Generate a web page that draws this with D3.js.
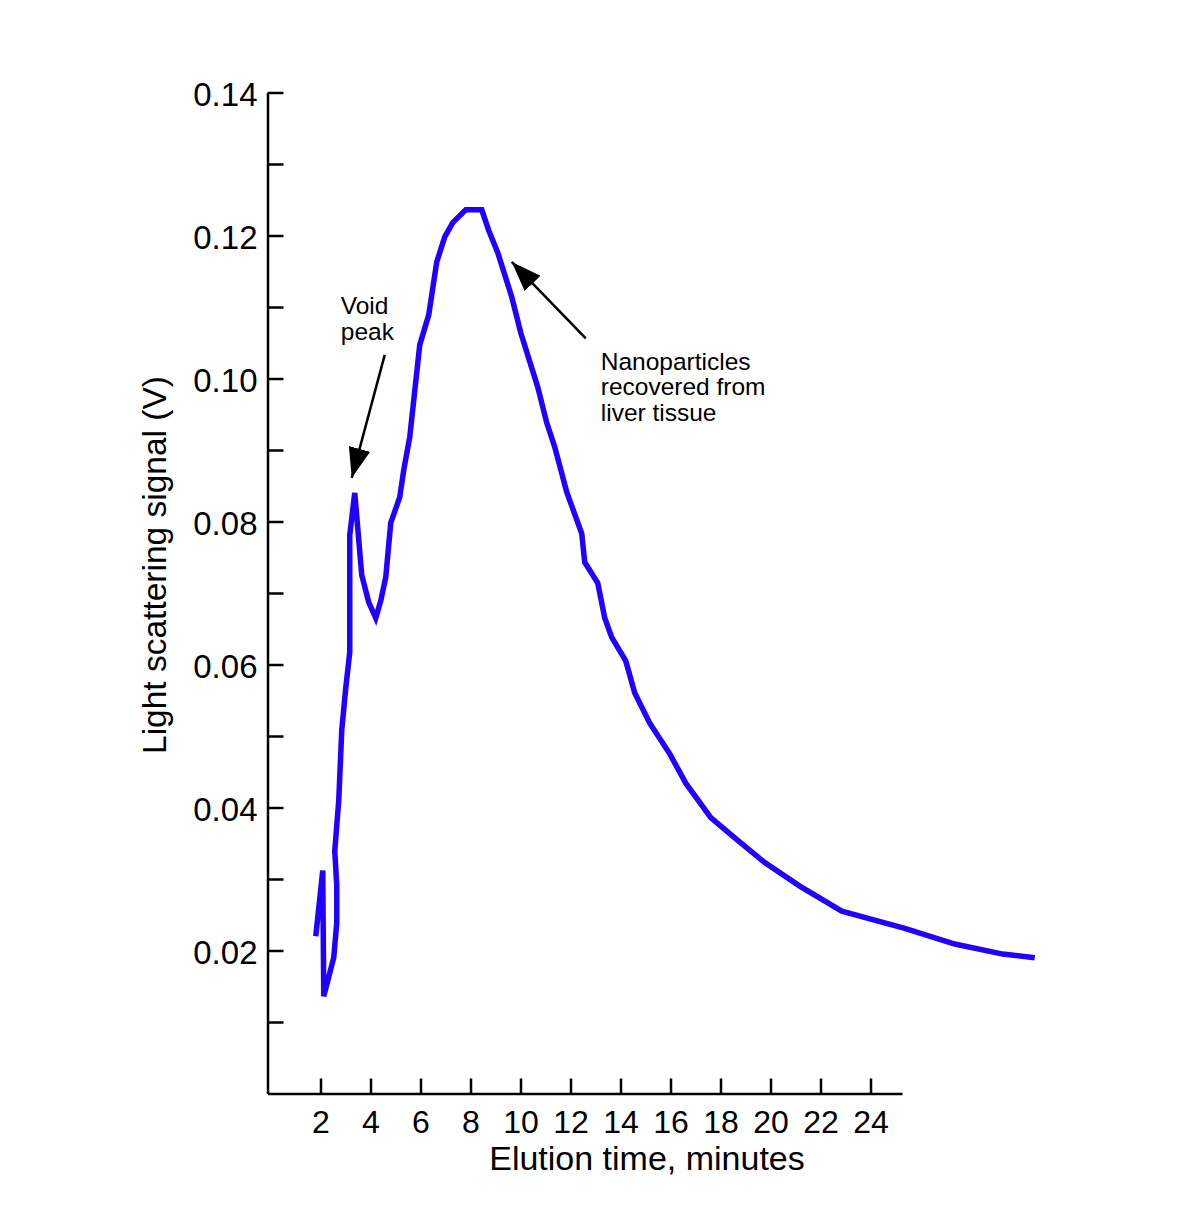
<!DOCTYPE html>
<html>
<head>
<meta charset="utf-8">
<script src="https://cdn.jsdelivr.net/npm/d3@7"></script>
<style>
  body { margin: 0; background: #fff; }
  text { font-family: "Liberation Sans", Arial, Helvetica, sans-serif; fill: #000; }
</style>
</head>
<body>
<div id="chart"></div>
<script>
// elution time (minutes) and light scattering signal (V)
var times = [1.81, 2.09, 2.13, 2.53, 2.65, 2.65, 2.57, 2.73, 2.85, 3.01, 3.17, 3.17,
             3.37, 3.65, 3.93, 4.21, 4.41, 4.61, 4.81, 5.17, 5.33, 5.57, 5.97, 6.33,
             6.65, 6.97, 7.29, 7.81, 8.45, 8.73, 9.09, 9.65, 10.01, 10.69, 11.05, 11.37,
             11.85, 12.45, 12.57, 13.09, 13.37, 13.65, 14.21, 14.57, 15.17, 15.97, 16.61,
             17.61, 18.45, 19.77, 21.17, 22.85, 25.37, 27.37, 29.29, 30.57];
var signal = [0.0220, 0.0312, 0.0136, 0.0190, 0.0239, 0.0291, 0.0339, 0.0410, 0.0508, 0.0567, 0.0617, 0.0781,
              0.0840, 0.0725, 0.0687, 0.0665, 0.0689, 0.0722, 0.0798, 0.0834, 0.0872, 0.0918, 0.1047, 0.1089,
              0.1163, 0.1198, 0.1218, 0.1236, 0.1236, 0.1207, 0.1176, 0.1114, 0.1064, 0.0988, 0.0938, 0.0904,
              0.0841, 0.0783, 0.0743, 0.0714, 0.0665, 0.0638, 0.0605, 0.0560, 0.0518, 0.0475, 0.0434,
              0.0386, 0.0361, 0.0323, 0.0290, 0.0255, 0.0231, 0.0209, 0.0195, 0.0190];

var x_ticks = [2, 4, 6, 8, 10, 12, 14, 16, 18, 20, 22, 24];
var y_ticks = [0.01, 0.02, 0.03, 0.04, 0.05, 0.06, 0.07, 0.08, 0.09, 0.10, 0.11, 0.12, 0.13, 0.14];

// annotations in data units: text anchor, arrow tail, arrow tip
var notes = [
    { lines: ['Void', 'peak'], t: 2.81, v: 0.1090, tail: [4.57, 0.1033], tip: [3.25, 0.0861] },
    { lines: ['Nanoparticles', 'recovered from', 'liver tissue'], t: 13.21, v: 0.1012,
      tail: [12.61, 0.1056], tip: [9.65, 0.1163] }
];

var W = 1200, H = 1212;

var sx = d3.scaleLinear()
    .domain([-0.12, 25.26])
    .range([267.5, 902]);
var sy = d3.scaleLinear()
    .domain([0, 0.14])
    .range([1093.5, 92.5]);

var svg = d3.select('#chart').append('svg')
    .attr('width', W)
    .attr('height', H);

svg.append('defs').append('marker')
    .attr('id', 'head')
    .attr('markerUnits', 'userSpaceOnUse')
    .attr('viewBox', '0 0 30 22')
    .attr('refX', 30)
    .attr('refY', 11)
    .attr('markerWidth', 30)
    .attr('markerHeight', 22)
    .attr('orient', 'auto')
  .append('path')
    .attr('d', 'M0,0 L30,11 L0,22 Z')
    .attr('fill', '#000');

var ax = d3.axisBottom(sx)
    .tickValues(x_ticks)
    .tickSizeInner(-15)
    .tickSizeOuter(0)
    .tickPadding(18)
    .tickFormat(d3.format('d'));
var ay = d3.axisLeft(sy)
    .tickValues(y_ticks)
    .tickSizeInner(-16)
    .tickSizeOuter(0)
    .tickPadding(10)
    .tickFormat(function(d) {
        return Math.round(d * 100) % 2 == 0 ? d3.format('.2f')(d) : '';
    });

var gx = svg.append('g')
    .attr('transform', 'translate(0, ' + sy(0) + ')')
    .call(ax);
var gy = svg.append('g')
    .attr('transform', 'translate(' + sx.range()[0] + ', 0)')
    .call(ay);

[gx, gy].forEach(function(g) {
    g.selectAll('path.domain, g.tick line')
        .attr('stroke', '#000')
        .attr('stroke-width', 2.5);
    g.selectAll('g.tick text')
        .attr('font-family', '"Liberation Sans", Arial, sans-serif')
        .attr('font-size', 33)
        .attr('fill', '#000');
});
gy.selectAll('g.tick text').attr('dy', '0.4em');
gx.selectAll('g.tick text')
    .attr('font-size', 32)
    .attr('dy', '0.68em');

svg.append('text')
    .attr('x', 647)
    .attr('y', 1170)
    .attr('text-anchor', 'middle')
    .attr('font-size', 34)
    .text('Elution time, minutes');

svg.append('text')
    .attr('transform', 'translate(166, 565) rotate(-90)')
    .attr('text-anchor', 'middle')
    .attr('font-size', 33.5)
    .text('Light scattering signal (V)');

var line = d3.line()
    .x(function(d) { return sx(d[0]); })
    .y(function(d) { return sy(d[1]); });

svg.append('path')
    .datum(d3.zip(times, signal))
    .attr('d', line)
    .attr('fill', 'none')
    .attr('stroke', '#2200ff')
    .attr('stroke-width', 5.5)
    .attr('stroke-linejoin', 'miter')
    .attr('stroke-miterlimit', 4);

notes.forEach(function(n) {
    var txt = svg.append('text')
        .attr('x', sx(n.t))
        .attr('y', sy(n.v))
        .attr('font-size', 24.5);
    n.lines.forEach(function(s, i) {
        txt.append('tspan')
            .attr('x', sx(n.t))
            .attr('dy', i == 0 ? 0 : 25.5)
            .text(s);
    });
    svg.append('line')
        .attr('x1', sx(n.tail[0]))
        .attr('y1', sy(n.tail[1]))
        .attr('x2', sx(n.tip[0]))
        .attr('y2', sy(n.tip[1]))
        .attr('stroke', '#000')
        .attr('stroke-width', 2.5)
        .attr('marker-end', 'url(#head)');
});
</script>
</body>
</html>
